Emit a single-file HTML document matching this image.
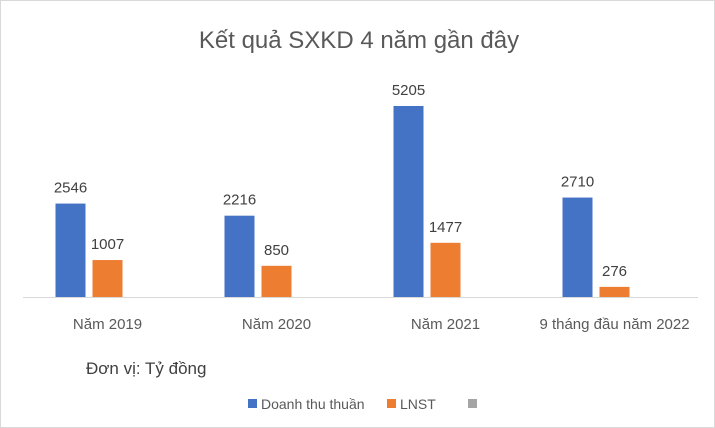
<!DOCTYPE html>
<html><head><meta charset="utf-8"><style>
body{margin:0;background:#fff;}
#c{position:relative;width:715px;height:428px;font-family:"Liberation Sans",sans-serif;overflow:hidden;border:1px solid #d9d9d9;box-sizing:border-box}
text{font-family:"Liberation Sans",sans-serif;}
</style></head><body>
<div id="c">
<svg id="s" width="715" height="428">
<text x="358" y="47" text-anchor="middle" font-size="24" fill="#595959">Kết quả SXKD 4 năm gần đây</text>
<line x1="22" y1="296.5" x2="697" y2="296.5" stroke="#d9d9d9" stroke-width="1"/>
<text x="85" y="373" font-size="17" fill="#404040">Đơn vị: Tỷ đồng</text>
<rect x="247" y="398" width="9" height="9" fill="#4472c4"/>
<text x="260" y="408" font-size="14" fill="#595959">Doanh thu thuần</text>
<rect x="386" y="398" width="9" height="9" fill="#ed7d31"/>
<text x="399" y="408" font-size="14" fill="#595959">LNST</text>
<rect x="467" y="398" width="9" height="9" fill="#a5a5a5"/>
<g id="bars"></g>
</svg>
</div>
<script>
const categories=["Năm 2019","Năm 2020","Năm 2021","9 tháng đầu năm 2022"];
const revenue=[2546,2216,5205,2710];
const profit=[1007,850,1477,276];
const base=296, x0=22, band=169, maxV=5205, maxH=191;
function y(v){return base-v/maxV*maxH;}
function cx(i){return x0+band*i+band/2;}
const g=document.getElementById('bars');
const NS="http://www.w3.org/2000/svg";
function mk(t,a){const e=document.createElementNS(NS,t);for(const k in a)e.setAttribute(k,a[k]);g.appendChild(e);return e;}
categories.forEach((c,i)=>{
  const cc=cx(i);
  const b=mk('rect',{x:cc-52,y:y(revenue[i]),width:30,height:base-y(revenue[i]),fill:'#4472c4'});
  
  
  const o=mk('rect',{x:cc-15,y:y(profit[i]),width:30,height:base-y(profit[i]),fill:'#ed7d31'});
  
  
  const t1=mk('text',{x:cc-37,y:y(revenue[i])-11,'text-anchor':'middle','font-size':15,fill:'#404040'});
  t1.textContent=revenue[i];
  
  
  const t2=mk('text',{x:cc,y:y(profit[i])-11,'text-anchor':'middle','font-size':15,fill:'#404040'});
  t2.textContent=profit[i];
  
  
  const l=mk('text',{x:cc,y:328,'text-anchor':'middle','font-size':15,fill:'#595959'});
  l.textContent=c;
  
  
});
</script>
</body></html>
